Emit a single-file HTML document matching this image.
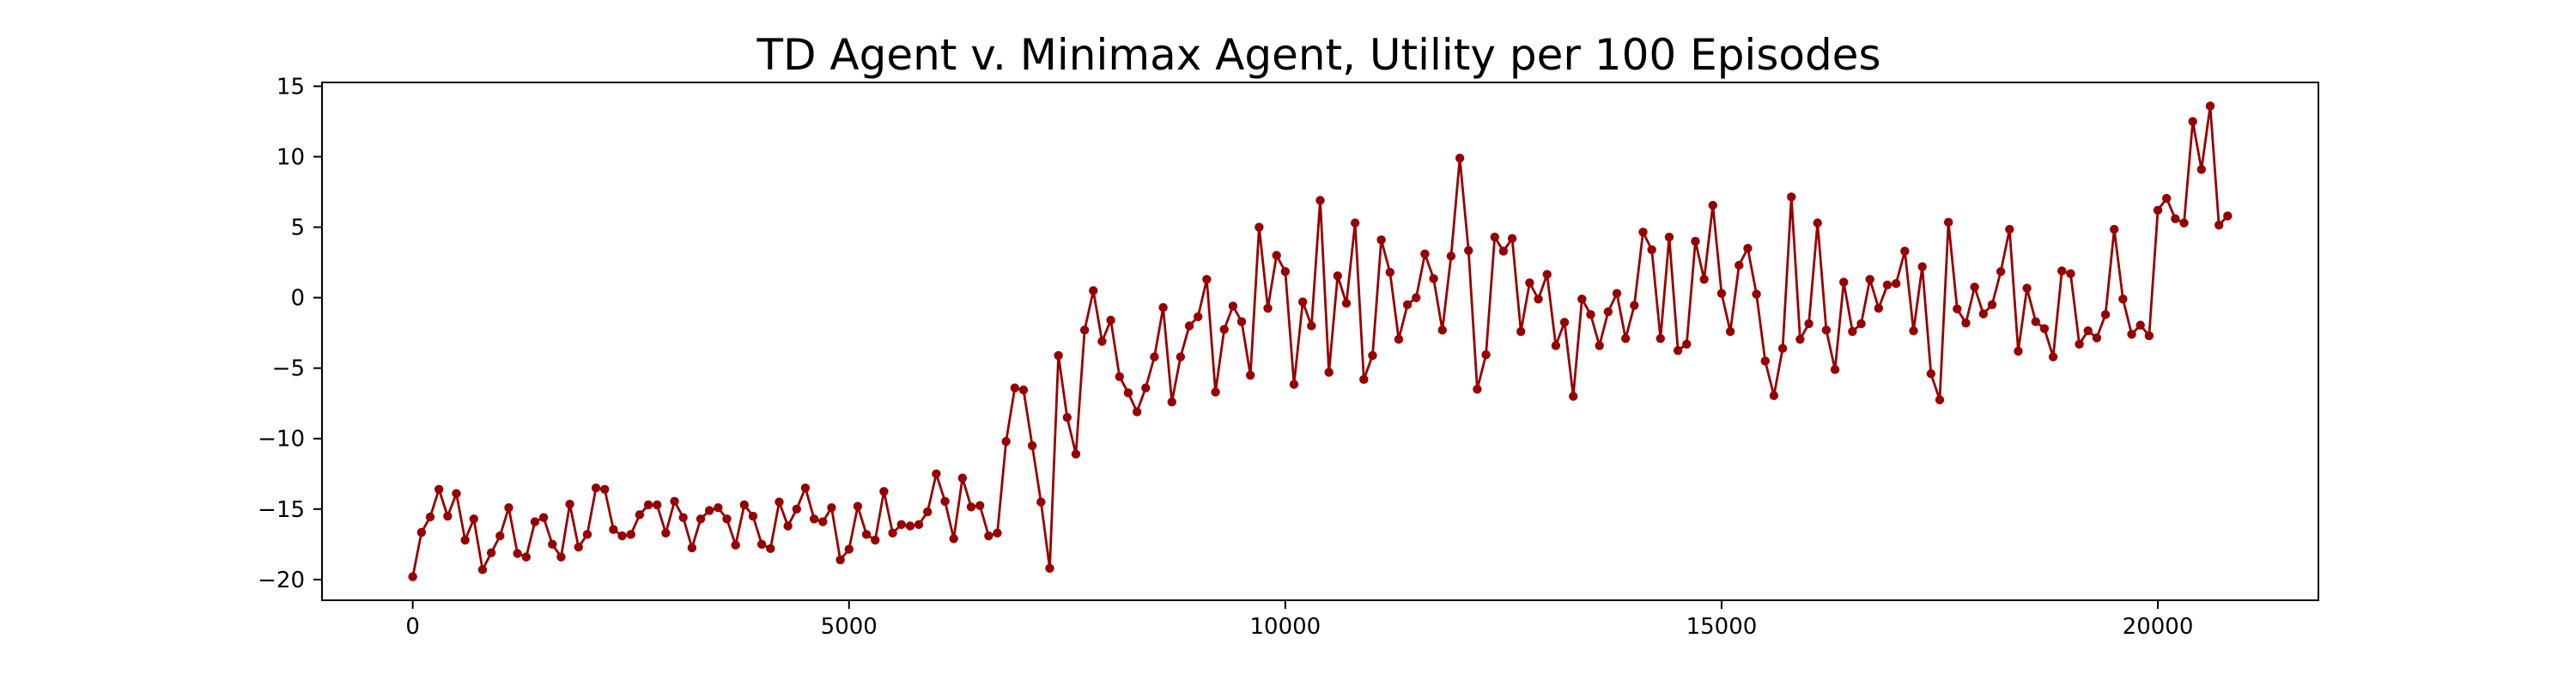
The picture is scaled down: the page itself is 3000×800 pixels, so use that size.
<!DOCTYPE html>
<html>
<head>
<meta charset="utf-8">
<style>
  html, body { margin: 0; padding: 0; background: #fff; }
  svg { display: block; }
  text { font-family: "DejaVu Sans", "Liberation Sans", sans-serif; fill: #000; }
</style>
</head>
<body>
<svg id="chart" width="3000" height="800" viewBox="0 0 3000 800" xmlns="http://www.w3.org/2000/svg">
  <rect x="0" y="0" width="3000" height="800" fill="#fff"/>
  <text x="1536" y="81" text-anchor="middle" font-size="50" textLength="1309" lengthAdjust="spacingAndGlyphs">TD Agent v. Minimax Agent, Utility per 100 Episodes</text>
  <g id="xticks"></g>
  <g id="yticks"></g>
  <g id="series"></g>
  <rect x="375" y="96" width="2325" height="603" fill="none" stroke="#000" stroke-width="2"/>
</svg>
<script>
const episodeStep = 100;
const utility = [
  -19.8,-16.65,-15.56,-13.6,-15.5,-13.9,-17.2,-15.7,-19.3,-18.1,-16.9,-14.9,-18.15,-18.4,-15.9,-15.6,-17.5,-18.4,-14.65,-17.7,-16.8,-13.5,-13.6,-16.45,-16.9,-16.8,-15.4,-14.7,-14.7,-16.7,-14.45,-15.6,-17.75,-15.7,-15.1,-14.9,
  -15.7,-17.55,-14.7,-15.5,-17.5,-17.8,-14.5,-16.2,-15.0,-13.5,-15.7,-15.9,-14.9,-18.6,-17.85,-14.8,-16.8,-17.2,-13.75,-16.7,-16.1,-16.2,-16.1,-15.2,-12.5,-14.45,-17.1,-12.8,-14.85,-14.75,-16.9,-16.7,-10.2,-6.4,-6.55,-10.5,-14.5,
  -19.2,-4.1,-8.5,-11.1,-2.3,0.5,-3.1,-1.6,-5.6,-6.75,-8.1,-6.4,-4.2,-0.7,-7.4,-4.2,-2.0,-1.35,1.3,-6.7,-2.25,-0.6,-1.7,-5.5,5.0,-0.75,3.0,1.85,-6.15,-0.3,-2.0,6.9,-5.3,1.55,-0.4,5.3,
  -5.8,-4.1,4.1,1.8,-2.95,-0.5,0.0,3.1,1.35,-2.3,2.95,9.9,3.35,-6.5,-4.05,4.3,3.3,4.2,-2.4,1.05,-0.1,1.65,-3.4,-1.75,-7.0,-0.1,-1.2,-3.4,-1.0,0.3,-2.9,-0.55,4.65,3.4,-2.9,
  4.3,-3.75,-3.3,4.0,1.3,6.55,0.3,-2.4,2.3,3.5,0.25,-4.5,-6.95,-3.6,7.15,-2.95,-1.85,5.3,-2.3,-5.1,1.1,-2.4,-1.85,1.3,-0.75,0.9,1.0,3.3,-2.35,2.2,-5.4,-7.25,5.35,-0.8,-1.8,0.75,-1.15,
  -0.5,1.85,4.85,-3.8,0.67,-1.7,-2.2,-4.2,1.9,1.7,-3.3,-2.35,-2.85,-1.2,4.85,-0.1,-2.6,-1.95,-2.7,6.2,7.05,5.6,5.3,12.5,9.1,13.6,5.15,5.8
];
const xTickValues = [0, 5000, 10000, 15000, 20000];
const xTickLabels = ["0", "5000", "10000", "15000", "20000"];
const yTickValues = [-20, -15, -10, -5, 0, 5, 10, 15];
const yTickLabels = ["\u221220", "\u221215", "\u221210", "\u22125", "0", "5", "10", "15"];

const NS = "http://www.w3.org/2000/svg";
const episodes = utility.map((_, i) => i * episodeStep);
const PL = 375, PR = 2700, PT = 96, PB = 699;
const xMin0 = Math.min(...episodes), xMax0 = Math.max(...episodes);
const yMin0 = Math.min(...utility), yMax0 = Math.max(...utility);
const xPad = (xMax0 - xMin0) * 0.05, yPad = (yMax0 - yMin0) * 0.05;
const xLo = xMin0 - xPad, xHi = xMax0 + xPad, yLo = yMin0 - yPad, yHi = yMax0 + yPad;
function xScale(v) { return PL + (v - xLo) / (xHi - xLo) * (PR - PL); }
function yScale(v) { return PB - (v - yLo) / (yHi - yLo) * (PB - PT); }

const xg = document.getElementById('xticks');
xTickValues.forEach((v, i) => {
  const x = xScale(v);
  const t = document.createElementNS(NS, 'line');
  t.setAttribute('x1', x); t.setAttribute('x2', x);
  t.setAttribute('y1', PB); t.setAttribute('y2', PB + 10);
  t.setAttribute('stroke', '#000'); t.setAttribute('stroke-width', '2');
  
  
  xg.appendChild(t);
  const l = document.createElementNS(NS, 'text');
  l.setAttribute('x', x); l.setAttribute('y', PB + 39);
  l.setAttribute('text-anchor', 'middle'); l.setAttribute('font-size', '26');
  l.textContent = xTickLabels[i];
  
  
  xg.appendChild(l);
});

const yg = document.getElementById('yticks');
yTickValues.forEach((v, i) => {
  const y = yScale(v);
  const t = document.createElementNS(NS, 'line');
  t.setAttribute('x1', PL - 10); t.setAttribute('x2', PL);
  t.setAttribute('y1', y); t.setAttribute('y2', y);
  t.setAttribute('stroke', '#000'); t.setAttribute('stroke-width', '2');
  
  
  yg.appendChild(t);
  const l = document.createElementNS(NS, 'text');
  l.setAttribute('x', PL - 20); l.setAttribute('y', y + 9);
  l.setAttribute('text-anchor', 'end'); l.setAttribute('font-size', '26');
  l.textContent = yTickLabels[i];
  
  
  yg.appendChild(l);
});

const sg = document.getElementById('series');
const pts = utility.map((v, i) => xScale(episodes[i]).toFixed(2) + ',' + yScale(v).toFixed(2)).join(' ');
const line = document.createElementNS(NS, 'polyline');
line.setAttribute('points', pts);
line.setAttribute('fill', 'none'); line.setAttribute('stroke', '#960000');
line.setAttribute('stroke-width', '2.8'); line.setAttribute('stroke-linejoin', 'round');


sg.appendChild(line);
utility.forEach((v, i) => {
  const c = document.createElementNS(NS, 'circle');
  c.setAttribute('cx', xScale(episodes[i])); c.setAttribute('cy', yScale(v));
  c.setAttribute('r', '5.2'); c.setAttribute('fill', '#960000');
  
  
  sg.appendChild(c);
});
</script>
</body>
</html>
